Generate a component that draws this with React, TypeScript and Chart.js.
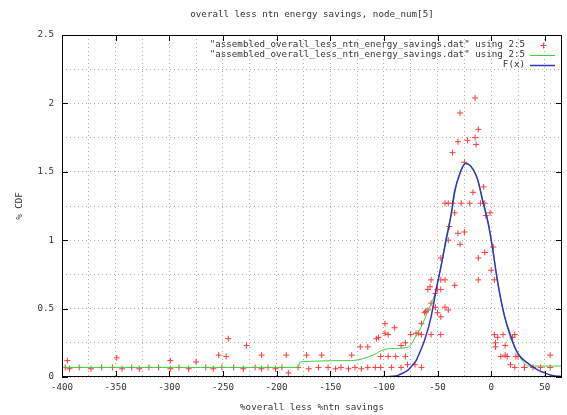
import React, { useEffect, useRef } from 'react';
import { Chart, registerables } from 'chart.js';

Chart.register(...registerables);

const TITLE = 'overall less ntn energy savings, node_num[5]';
const X_LABEL = '%overall less %ntn savings';
const Y_LABEL = '% CDF';
const LEGEND_LABELS = [
  '"assembled_overall_less_ntn_energy_savings.dat" using 2:5',
  '"assembled_overall_less_ntn_energy_savings.dat" using 2:5',
  'F(x)',
];
const X_MAJOR_TICKS = [-400, -350, -300, -250, -200, -150, -100, -50, 0, 50];
const Y_MAJOR_TICKS = [0, 0.5, 1, 1.5, 2, 2.5];

// red "+" points (data file, using 2:5)
const pointsX = [
  -397, -395, -393, -384, -373, -363, -353, -349, -344, -335, -328, -319, -310, -299, -299, -291, -282, -275,
  -266, -259, -254, -251, -247, -245, -240, -231, -228, -220, -214, -214, -208, -201, -195, -191, -189, -180,
  -172, -170, -161, -158, -152, -145, -140, -133, -130, -127, -122, -121, -115, -115, -108, -107, -105, -103,
  -103, -99, -99, -96, -96, -93, -90, -89, -84, -84, -80, -80, -78, -75, -71, -70, -68, -65, -65, -65, -62,
  -61, -59, -59, -57, -56, -56, -56, -52, -52, -50, -50, -47, -47, -47, -47, -47, -43, -43, -43, -40, -40,
  -40, -39, -36, -36, -34, -34, -31, -31, -29, -29, -28, -25, -25, -22, -20, -17, -15, -15, -14, -12, -12,
  -12, -10, -7, -6, -6, -5, -1, 0, 2, 3, 3, 4, 4, 6, 9, 11, 13, 13, 15, 18, 20, 22, 22, 23, 25, 31, 31, 39,
  46, 55, 55, 62,
];
const pointsY = [
  0.07, 0.12, 0.06, 0.07, 0.06, 0.07, 0.07, 0.14, 0.06, 0.07, 0.06, 0.07, 0.07, 0.12, 0.06, 0.07, 0.06, 0.11,
  0.07, 0.06, 0.16, 0.07, 0.15, 0.28, 0.07, 0.06, 0.23, 0.07, 0.16, 0.06, 0.07, 0.06, 0.07, 0.16, 0.03, 0.07,
  0.16, 0.06, 0.07, 0.16, 0.07, 0.06, 0.07, 0.06, 0.16, 0.07, 0.22, 0.06, 0.22, 0.07, 0.07, 0.28, 0.29, 0.15,
  0.07, 0.32, 0.39, 0.31, 0.15, 0.07, 0.36, 0.15, 0.23, 0.07, 0.25, 0.15, 0.09, 0.31, 0.09, 0.32, 0.32, 0.39,
  0.31, 0.07, 0.47, 0.48, 0.49, 0.64, 0.66, 0.54, 0.71, 0.31, 0.61, 0.51, 0.64, 0.47, 0.71, 0.87, 0.64, 0.44,
  0.31, 0.71, 1.27, 0.51, 1.0, 1.27, 0.49, 1.1, 1.27, 1.64, 1.2, 0.67, 1.05, 1.72, 0.97, 1.93, 1.27, 1.06,
  1.57, 1.73, 1.27, 1.35, 1.75, 2.04, 1.7, 0.87, 1.81, 0.71, 1.27, 1.39, 0.91, 1.27, 1.18, 1.2, 0.78, 0.95,
  0.31, 0.71, 0.25, 0.22, 0.29, 0.15, 0.31, 0.16, 0.23, 0.15, 0.09, 0.29, 0.07, 0.31, 0.15, 0.15, 0.07, 0.07,
  0.07, 0.07, 0.16, 0.07,
];

// green line (data file, using 2:5, with lines)
const greenX = [-400, -180, -178, -130, -110, -100, -87, -77, -70, -65, -59, -52, -47, -42, -37, -33, -29, -24, -19, -13, -8, -3, 1.5, 4.3, 8, 12.6, 17, 23, 28, 31, 35, 66];
const greenY = [0.07, 0.07, 0.11, 0.12, 0.16, 0.2, 0.21, 0.22, 0.3, 0.37, 0.48, 0.62, 0.8, 1.02, 1.2, 1.38, 1.5, 1.56, 1.54, 1.45, 1.3, 1.14, 0.94, 0.78, 0.6, 0.44, 0.31, 0.2, 0.13, 0.1, 0.08, 0.08];

// blue fitted function F(x)
const fitX = [-100, -92, -87, -82, -77.5, -74, -70, -66, -62, -56, -51.5, -47, -42, -37.5, -34, -29, -24, -19, -12.5, -8, -3, 1.5, 4.3, 8, 12.6, 17.3, 23, 27, 31, 36, 40.5, 45, 50, 55, 60, 66];
const fitY = [0, 0.005, 0.012, 0.03, 0.05, 0.08, 0.12, 0.19, 0.27, 0.44, 0.63, 0.8, 1.0, 1.18, 1.36, 1.49, 1.56, 1.54, 1.44, 1.29, 1.13, 0.93, 0.78, 0.61, 0.44, 0.32, 0.2, 0.15, 0.12, 0.09, 0.065, 0.045, 0.03, 0.015, 0.008, 0.004];

const FONT_FAMILY = '"DejaVu Sans Mono", monospace';
const FONT_SIZE = 9.2;
const TEXT_COLOR = '#333';

const toXY = (xs: number[], ys: number[]) => xs.map((x, i) => ({ x, y: ys[i] }));

const framePlugin = {
  id: 'gnuplotFrame',
  afterDatasetsDraw(chart: any) {
    const { ctx, chartArea, scales } = chart;
    const { left, right, top, bottom } = chartArea;
    ctx.save();
    ctx.strokeStyle = '#000';
    ctx.lineWidth = 1;
    ctx.setLineDash([]);
    ctx.strokeRect(Math.round(left) + 0.5, Math.round(top) + 0.5, Math.round(right - left) - 1, Math.round(bottom - top) - 1);
    const tl = 6;
    ctx.beginPath();
    X_MAJOR_TICKS.forEach((v) => {
      const px = Math.round(scales.x.getPixelForValue(v)) + 0.5;
      ctx.moveTo(px, bottom); ctx.lineTo(px, bottom - tl);
      ctx.moveTo(px, top); ctx.lineTo(px, top + tl);
    });
    Y_MAJOR_TICKS.forEach((v) => {
      const py = Math.round(scales.y.getPixelForValue(v)) + 0.5;
      ctx.moveTo(left, py); ctx.lineTo(left + tl, py);
      ctx.moveTo(right, py); ctx.lineTo(right - tl, py);
    });
    ctx.stroke();

    ctx.fillStyle = TEXT_COLOR;
    ctx.font = `${FONT_SIZE}px ${FONT_FAMILY}`;
    ctx.textAlign = 'center';
    ctx.textBaseline = 'middle';
    ctx.fillText(TITLE, (left + right) / 2, 15);

    const textRight = right - 37;
    const sampleL = right - 32;
    const sampleR = right - 7;
    const rowY = [top + 10, top + 20, top + 30];
    ctx.textAlign = 'right';
    LEGEND_LABELS.forEach((lab, i) => {
      ctx.fillStyle = TEXT_COLOR;
      ctx.fillText(lab, textRight, rowY[i]);
      const ds = chart.data.datasets[i];
      ctx.strokeStyle = ds.borderColor;
      ctx.lineWidth = ds.borderWidth || 1;
      ctx.beginPath();
      if (i === 0) {
        const cx = Math.round((sampleL + sampleR) / 2) + 0.5;
        const cy = Math.round(rowY[i]) + 0.5;
        ctx.moveTo(cx - 3, cy); ctx.lineTo(cx + 3, cy);
        ctx.moveTo(cx, cy - 3); ctx.lineTo(cx, cy + 3);
      } else {
        ctx.moveTo(sampleL, Math.round(rowY[i]) + 0.5);
        ctx.lineTo(sampleR, Math.round(rowY[i]) + 0.5);
      }
      ctx.stroke();
    });
    ctx.restore();
  },
};

export default function App() {
  const canvasRef = useRef<HTMLCanvasElement | null>(null);

  useEffect(() => {
    if (!canvasRef.current) return;
    const tickFont = { family: FONT_FAMILY, size: FONT_SIZE };
    const chart = new Chart(canvasRef.current, {
      type: 'scatter',
      data: {
        datasets: [
          {
            label: LEGEND_LABELS[0],
            data: toXY(pointsX, pointsY),
            showLine: false,
            pointStyle: 'cross',
            pointRadius: 3,
            pointBorderWidth: 1,
            borderColor: '#ff3a3a',
            backgroundColor: '#ff3a3a',
            borderWidth: 1,
            order: 3,
          },
          {
            label: LEGEND_LABELS[1],
            data: toXY(greenX, greenY),
            showLine: true,
            pointRadius: 0,
            borderColor: '#3ccf3c',
            borderWidth: 1,
            cubicInterpolationMode: 'monotone',
            order: 2,
          },
          {
            label: LEGEND_LABELS[2],
            data: toXY(fitX, fitY),
            showLine: true,
            pointRadius: 0,
            borderColor: '#3035bb',
            borderWidth: 1.5,
            cubicInterpolationMode: 'monotone',
            order: 1,
          },
        ],
      },
      options: {
        animation: false,
        responsive: false,
        devicePixelRatio: 1,
        layout: { padding: { top: 35, right: 2, left: 0, bottom: 0 } },
        plugins: {
          legend: { display: false },
          title: { display: false },
          tooltip: { enabled: false },
        },
        scales: {
          x: {
            type: 'linear',
            min: -400,
            max: 66,
            afterFit: (s: any) => { s.height = 38; },
            ticks: {
              stepSize: 25,
              includeBounds: false,
              autoSkip: false,
              maxRotation: 0,
              padding: 5,
              color: TEXT_COLOR,
              font: tickFont,
              callback: (v: any) => (Number(v) % 50 === 0 ? String(v) : ''),
            },
            grid: { color: '#adadad', lineWidth: 1, drawTicks: false },
            border: { display: false, dash: [1, 3] },
            title: { display: true, text: X_LABEL, color: TEXT_COLOR, font: tickFont, padding: { top: 0, bottom: 1.5 } },
          },
          y: {
            type: 'linear',
            min: 0,
            max: 2.5,
            afterFit: (s: any) => { s.width = 62; },
            ticks: {
              stepSize: 0.25,
              autoSkip: false,
              padding: 8,
              color: TEXT_COLOR,
              font: tickFont,
              callback: (v: any) => {
                const n = Math.round(Number(v) * 100) / 100;
                return Math.abs((n * 2) - Math.round(n * 2)) < 1e-6 ? String(n) : '';
              },
            },
            grid: { color: '#adadad', lineWidth: 1, drawTicks: false },
            border: { display: false, dash: [1, 3] },
            title: { display: true, text: Y_LABEL, color: TEXT_COLOR, font: tickFont, padding: { top: 14.5, bottom: 0 } },
          },
        },
      },
      plugins: [framePlugin],
    } as any);
    return () => chart.destroy();
  }, []);

  return (
    <div style={{ position: 'absolute', left: 0, top: 0, width: 567, height: 415, background: '#fff' }}>
      <canvas ref={canvasRef} width={567} height={415} style={{ display: 'block', width: 567, height: 415 }} />
    </div>
  );
}
